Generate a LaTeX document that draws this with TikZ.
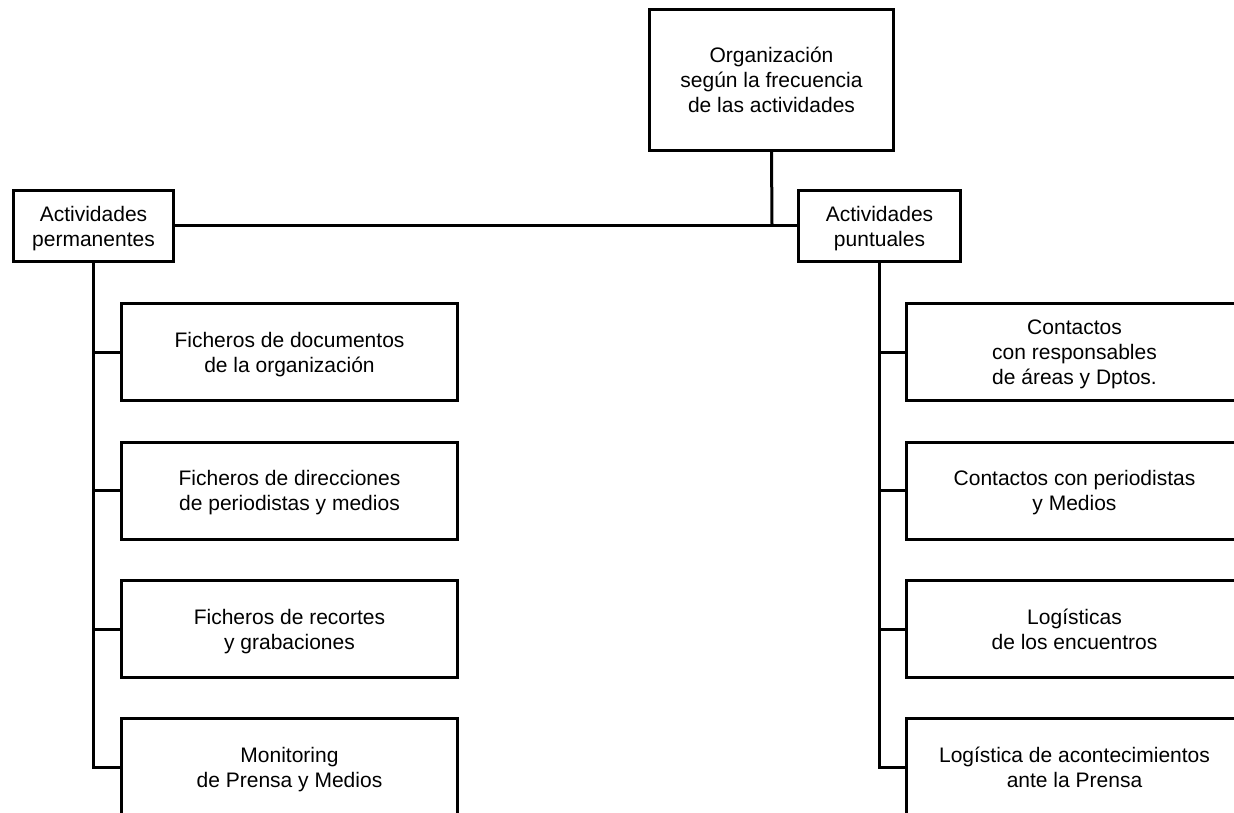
\documentclass[tikz,border=0pt]{standalone}
\usepackage{fontspec}
\setmainfont{Liberation Sans}
\begin{document}
\begin{tikzpicture}[x=1pt,y=-1pt,
  box/.style={draw, line width=3pt, align=center, inner sep=0pt,
    text depth=0pt, font=\fontsize{21}{25}\selectfont},
  link/.style={line width=3pt}]
\useasboundingbox (0,0) rectangle (1234,812);
\clip (0,0) rectangle (1234,812);
\node[box, minimum width=244pt, minimum height=141pt] (top) at (771.5,80)
  {Organización\\según la frecuencia\\de las actividades};
\node[box, minimum width=160pt, minimum height=71pt] (perm) at (93.5,226)
  {Actividades\\permanentes};
\node[box, minimum width=162pt, minimum height=71pt] (punt) at (879.5,226)
  {Actividades\\puntuales};
\coordinate (j) at (772,225);
\draw[link] (top.south) -- (j);
\draw[link] (perm.east |- j) -- (punt.west |- j);
% left children
\node[box, minimum width=336pt, minimum height=97pt] (l1) at (289.5,352)
  {Ficheros de documentos\\de la organización};
\node[box, minimum width=336pt, minimum height=97pt] (l2) at (289.5,490.5)
  {Ficheros de direcciones\\de periodistas y medios};
\node[box, minimum width=336pt, minimum height=97pt] (l3) at (289.5,629)
  {Ficheros de recortes\\y grabaciones};
\node[box, minimum width=336pt, minimum height=97pt] (l4) at (289.5,767)
  {Monitoring\\de Prensa y Medios};
% right children
\node[box, minimum width=336pt, minimum height=97pt] (r1) at (1074.5,352)
  {Contactos\\con responsables\\de áreas y Dptos.};
\node[box, minimum width=336pt, minimum height=97pt] (r2) at (1074.5,490.5)
  {Contactos con periodistas\\y Medios};
\node[box, minimum width=336pt, minimum height=97pt] (r3) at (1074.5,629)
  {Logísticas\\de los encuentros};
\node[box, minimum width=336pt, minimum height=97pt] (r4) at (1074.5,767)
  {Logística de acontecimientos\\ante la Prensa};
\draw[link] (perm.south) |- (l4.west);
\foreach \n in {l1,l2,l3} \draw[link] (perm.south |- \n.west) -- (\n.west);
\draw[link] (punt.south) |- (r4.west);
\foreach \n in {r1,r2,r3} \draw[link] (punt.south |- \n.west) -- (\n.west);
\end{tikzpicture}
\end{document}
